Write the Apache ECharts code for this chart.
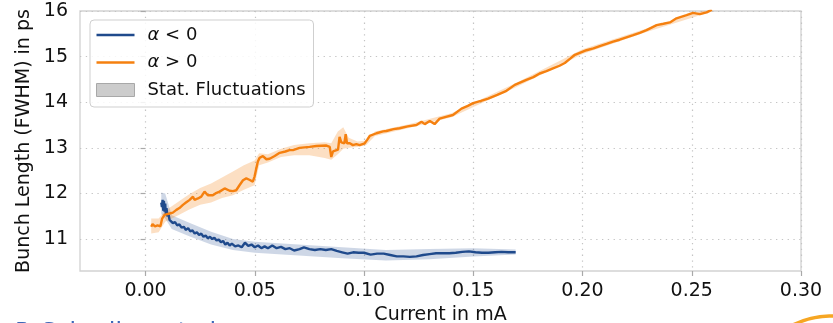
<!DOCTYPE html>
<html>
<head>
<meta charset="utf-8">
<script src="https://cdn.jsdelivr.net/npm/echarts@6/dist/echarts.min.js"></script>
<style>
  html, body { margin: 0; padding: 0; background: #fff; }
  #chart { width: 833px; height: 323px; }
</style>
</head>
<body>
<div id="chart"></div>
<script>
// Bunch length (FWHM) versus beam current for negative and positive momentum compaction

const xTicks = [0.00, 0.05, 0.10, 0.15, 0.20, 0.25, 0.30];
const yTicks = [11, 12, 13, 14, 15, 16];

// alpha < 0 : [current in mA, bunch length in ps]
const negAlpha = [
  [0.0072, 11.80], [0.0075, 11.70], [0.0078, 11.86], [0.0081, 11.62], [0.0084, 11.84],
  [0.0087, 11.60], [0.0090, 11.78], [0.0093, 11.55], [0.0096, 11.68], [0.0100, 11.50],
  [0.0105, 11.55], [0.0110, 11.42], [0.0118, 11.40], [0.0125, 11.35], [0.0135, 11.37],
  [0.0145, 11.30], [0.0155, 11.32], [0.0165, 11.25], [0.0175, 11.27], [0.0185, 11.20],
  [0.0195, 11.24], [0.0205, 11.17], [0.0215, 11.19], [0.0225, 11.12], [0.0235, 11.15],
  [0.0245, 11.09], [0.0255, 11.12], [0.0265, 11.05], [0.0275, 11.08], [0.0285, 11.02],
  [0.0295, 11.05], [0.0305, 11.00], [0.0315, 11.03], [0.0325, 10.97], [0.0335, 10.99],
  [0.0345, 10.93], [0.0355, 10.96], [0.0365, 10.88], [0.0375, 10.92], [0.0385, 10.86],
  [0.0395, 10.90], [0.0410, 10.84], [0.0425, 10.86], [0.0440, 10.82], [0.0455, 10.92],
  [0.0470, 10.85], [0.0485, 10.88], [0.0500, 10.82], [0.0515, 10.86], [0.0530, 10.80],
  [0.0545, 10.84], [0.0560, 10.80], [0.0580, 10.86], [0.0600, 10.80], [0.0620, 10.83],
  [0.0640, 10.78], [0.0660, 10.80], [0.0680, 10.75], [0.0705, 10.78], [0.0725, 10.82],
  [0.0750, 10.78], [0.0775, 10.76], [0.0800, 10.78], [0.0825, 10.76], [0.0850, 10.78],
  [0.0875, 10.74], [0.0900, 10.71], [0.0925, 10.68], [0.0950, 10.71], [0.0975, 10.70],
  [0.1000, 10.70], [0.1030, 10.66], [0.1060, 10.68], [0.1090, 10.68], [0.1120, 10.65],
  [0.1150, 10.62], [0.1180, 10.62], [0.1210, 10.61], [0.1240, 10.62], [0.1270, 10.65],
  [0.1300, 10.67], [0.1330, 10.69], [0.1360, 10.69], [0.1390, 10.69], [0.1420, 10.70],
  [0.1450, 10.72], [0.1480, 10.73], [0.1510, 10.71], [0.1540, 10.70], [0.1570, 10.70],
  [0.1600, 10.71], [0.1630, 10.72], [0.1660, 10.71], [0.1694, 10.71]
];

// alpha > 0 : [current in mA, bunch length in ps]
const posAlpha = [
  [0.0026, 11.27], [0.0032, 11.33], [0.0037, 11.36], [0.0043, 11.28], [0.0049, 11.27],
  [0.0055, 11.30], [0.0062, 11.26], [0.0068, 11.28], [0.0072, 11.26], [0.0076, 11.45],
  [0.0079, 11.49], [0.0087, 11.53], [0.0095, 11.52], [0.0110, 11.56], [0.0125, 11.58],
  [0.0141, 11.64], [0.0155, 11.68], [0.0171, 11.75], [0.0185, 11.80], [0.0202, 11.86],
  [0.0217, 11.93], [0.0224, 11.86], [0.0240, 11.89], [0.0255, 11.93], [0.0270, 12.04],
  [0.0285, 11.96], [0.0308, 11.96], [0.0320, 12.00], [0.0339, 12.04], [0.0362, 12.11],
  [0.0385, 12.06], [0.0400, 12.05], [0.0415, 12.07], [0.0430, 12.18], [0.0446, 12.29],
  [0.0461, 12.33], [0.0475, 12.30], [0.0491, 12.26], [0.0499, 12.37], [0.0507, 12.55],
  [0.0514, 12.70], [0.0522, 12.78], [0.0537, 12.82], [0.0553, 12.75], [0.0568, 12.76],
  [0.0591, 12.82], [0.0614, 12.89], [0.0640, 12.92], [0.0659, 12.95], [0.0675, 12.95],
  [0.0705, 13.00], [0.0751, 13.02], [0.0782, 13.04], [0.0828, 13.05], [0.0843, 13.02],
  [0.0850, 12.80], [0.0858, 12.92], [0.0866, 12.93], [0.0881, 12.96], [0.0888, 13.24],
  [0.0896, 13.12], [0.0904, 13.16], [0.0910, 13.10], [0.0916, 13.30], [0.0922, 13.10],
  [0.0935, 13.10], [0.0949, 13.06], [0.0965, 13.08], [0.0980, 13.06], [0.1003, 13.10],
  [0.1015, 13.18], [0.1026, 13.26], [0.1057, 13.32], [0.1087, 13.36], [0.1102, 13.37],
  [0.1135, 13.41], [0.1163, 13.43], [0.1200, 13.47], [0.1240, 13.50], [0.1263, 13.57],
  [0.1278, 13.52], [0.1301, 13.59], [0.1323, 13.52], [0.1346, 13.64], [0.1375, 13.68],
  [0.1407, 13.72], [0.1446, 13.86], [0.1475, 13.92], [0.1499, 13.98], [0.1535, 14.03],
  [0.1568, 14.08], [0.1610, 14.16], [0.1652, 14.25], [0.1690, 14.38], [0.1743, 14.49],
  [0.1775, 14.55], [0.1804, 14.63], [0.1835, 14.68], [0.1865, 14.74], [0.1895, 14.80],
  [0.1919, 14.86], [0.1945, 14.96], [0.1965, 15.04], [0.2018, 15.14], [0.2050, 15.18],
  [0.2079, 15.23], [0.2110, 15.28], [0.2140, 15.33], [0.2170, 15.37], [0.2201, 15.42],
  [0.2232, 15.47], [0.2262, 15.52], [0.2293, 15.58], [0.2339, 15.69], [0.2370, 15.72],
  [0.2400, 15.75], [0.2430, 15.84], [0.2476, 15.91], [0.2506, 15.96], [0.2537, 15.93],
  [0.2568, 15.97], [0.2592, 16.03]
];

// statistical fluctuation bands: current, lower and upper bound
const negBandX  = [0.0072, 0.0090, 0.0120, 0.0200, 0.0300, 0.0400, 0.0500, 0.0700, 0.0900, 0.1100, 0.1300, 0.1500, 0.1694];
const negBandLo = [11.55, 11.45, 11.22, 11.06, 10.88, 10.76, 10.70, 10.64, 10.58, 10.53, 10.56, 10.62, 10.66];
const negBandHi = [12.02, 12.00, 11.52, 11.36, 11.16, 11.00, 10.94, 10.88, 10.82, 10.76, 10.78, 10.80, 10.77];

const posBandX  = [0.0026, 0.0060, 0.0090, 0.0150, 0.0200, 0.0250, 0.0300, 0.0350, 0.0400, 0.0450, 0.0499,
                   0.0520, 0.0560, 0.0620, 0.0680, 0.0750, 0.0820, 0.0850, 0.0880, 0.0905, 0.0930, 0.0970,
                   0.1010, 0.1050, 0.1200, 0.1400, 0.1700, 0.2000, 0.2300, 0.2600];
const posBandLo = [11.12, 11.15, 11.38, 11.52, 11.65, 11.75, 11.80, 11.90, 11.96, 12.08, 12.18,
                   12.62, 12.68, 12.80, 12.84, 12.84, 12.78, 12.74, 12.86, 12.98, 13.00, 13.02,
                   13.06, 13.26, 13.43, 13.67, 14.34, 15.06, 15.55, 16.00];
const posBandHi = [11.45, 11.45, 11.62, 11.82, 11.98, 12.12, 12.22, 12.35, 12.48, 12.62, 12.72,
                   12.88, 12.86, 12.98, 13.06, 13.10, 13.12, 13.10, 13.36, 13.45, 13.22, 13.14,
                   13.16, 13.36, 13.51, 13.76, 14.43, 15.16, 15.63, 16.08];

const BLUE = '#1f4a8c';
const ORANGE = '#f5800f';
const FONT = 'DejaVu Sans';
const TEXT = '#111';
const FS = 19;
// thin bar used as the legend handle for the two line series
const LINE_ICON = 'path://M0,0 L38,0 L38,2.4 L0,2.4 Z';

function bandSeries(xs, lo, hi, fill) {
  return {
    type: 'custom',
    name: 'Stat. Fluctuations',
    clip: true,
    silent: true,
    z: 1,
    data: [[xs[0], lo[0]]],
    renderItem: function (params, api) {
      const pts = [];
      for (let i = 0; i < xs.length; i++) pts.push(api.coord([xs[i], hi[i]]));
      for (let i = xs.length - 1; i >= 0; i--) pts.push(api.coord([xs[i], lo[i]]));
      return { type: 'polygon', shape: { points: pts }, style: { fill: fill } };
    }
  };
}

const chart = echarts.init(document.getElementById('chart'), null, { renderer: 'canvas' });

chart.setOption({
  animation: false,
  backgroundColor: '#fff',
  textStyle: { fontFamily: FONT },
  grid: {
    left: 80, right: 32, top: 11, bottom: 52,
    containLabel: false, outerBoundsMode: 'none',
    show: true, borderColor: '#d2d2d2', borderWidth: 1.3, backgroundColor: 'transparent'
  },
  legend: {
    orient: 'vertical',
    left: 90, top: 20,
    padding: [6, 8, 8, 6],
    itemWidth: 38, itemHeight: 13, itemGap: 9.5,
    symbolKeepAspect: true,
    backgroundColor: 'rgba(255,255,255,0.85)',
    borderColor: '#cfcfcf', borderWidth: 1, borderRadius: 4,
    textStyle: {
      fontFamily: FONT, fontSize: 18, color: TEXT, padding: [0, 0, 0, 8],
      rich: { it: { fontFamily: FONT, fontSize: 18, fontStyle: 'italic', color: TEXT } }
    },
    formatter: function (name) { return name.replace('α', '{it|α}'); },
    data: [
      { name: 'α < 0', icon: LINE_ICON },
      { name: 'α > 0', icon: LINE_ICON },
      { name: 'Stat. Fluctuations', icon: 'rect',
        itemStyle: { color: '#cccccc', borderColor: '#a8a8a8', borderWidth: 1 } }
    ]
  },
  xAxis: {
    type: 'value',
    min: -0.03, max: 0.30, splitNumber: 6,
    name: 'Current in mA', nameLocation: 'middle', nameGap: 35,
    nameTextStyle: { fontFamily: FONT, fontSize: FS, color: TEXT },
    axisLine: { show: false },
    axisTick: { show: true, length: 5, customValues: xTicks, lineStyle: { color: '#a9a9a9', width: 1.2 } },
    axisLabel: {
      customValues: xTicks, margin: 11, fontFamily: FONT, fontSize: FS, color: TEXT,
      formatter: function (v) { return v.toFixed(2); }
    },
    splitLine: { show: true, lineStyle: { color: '#c4c4c4', width: 1.2, type: [1.3, 4.5] } }
  },
  yAxis: {
    type: 'value',
    min: 10.3, max: 16, splitNumber: 5,
    name: 'Bunch Length (FWHM) in ps', nameLocation: 'middle', nameGap: 46, nameRotate: 90,
    nameMoveOverlap: false,
    nameTextStyle: { fontFamily: FONT, fontSize: FS, color: TEXT },
    axisLine: { show: false },
    axisTick: { show: true, length: 5, customValues: yTicks, lineStyle: { color: '#a9a9a9', width: 1.2 } },
    axisLabel: {
      customValues: yTicks, margin: 12, fontFamily: FONT, fontSize: FS, color: TEXT,
      formatter: function (v) { return String(v); }
    },
    splitLine: { show: true, lineStyle: { color: '#c4c4c4', width: 1.2, type: [1.3, 4.5] } }
  },
  series: [
    bandSeries(negBandX, negBandLo, negBandHi, 'rgba(31,74,140,0.22)'),
    bandSeries(posBandX, posBandLo, posBandHi, 'rgba(245,128,15,0.25)'),
    {
      type: 'line', name: 'α < 0', data: negAlpha, symbol: 'none', z: 3,
      color: BLUE, lineStyle: { color: BLUE, width: 2.4 }
    },
    {
      type: 'line', name: 'α > 0', data: posAlpha, symbol: 'none', z: 3,
      color: ORANGE, lineStyle: { color: ORANGE, width: 2.4 }
    }
  ],
  graphic: [
    {
      type: 'text', left: 15, top: 322, silent: true,
      style: { text: 'P. Schreiber et al.', fill: '#3d66b8', font: '24px "DejaVu Sans"' }
    },
    {
      type: 'arc', silent: true,
      shape: { cx: 832, cy: 406, r: 90, startAngle: Math.PI * 1.36, endAngle: Math.PI * 1.62 },
      style: { stroke: '#f6a623', lineWidth: 3.5, fill: null }
    }
  ]
});
</script>
</body>
</html>
